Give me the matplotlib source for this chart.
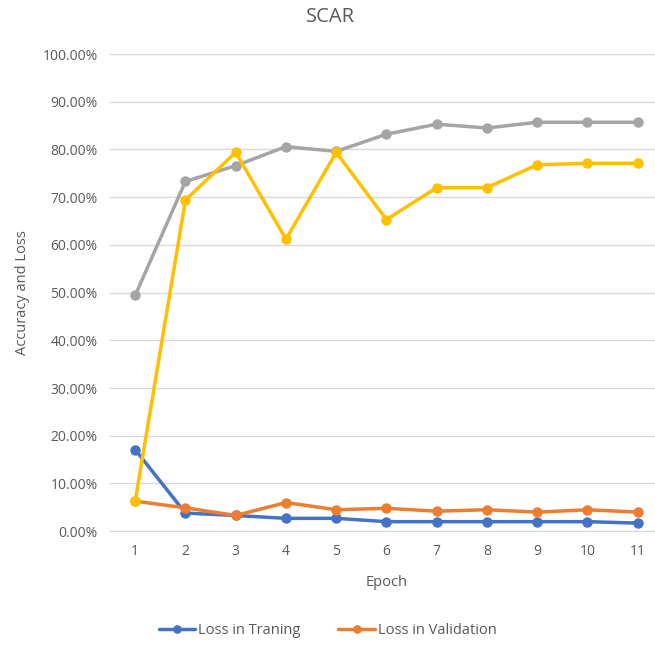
import matplotlib.pyplot as plt
from matplotlib.ticker import PercentFormatter

epochs = [1, 2, 3, 4, 5, 6, 7, 8, 9, 10, 11]
loss_train = [17.1, 3.8, 3.3, 2.7, 2.7, 2.0, 2.0, 2.0, 2.0, 2.0, 1.7]
loss_val = [6.3, 4.9, 3.3, 6.0, 4.5, 4.8, 4.2, 4.5, 4.0, 4.5, 4.0]
acc_train = [49.4, 73.3, 76.6, 80.6, 79.6, 83.2, 85.3, 84.5, 85.7, 85.7, 85.7]
acc_val = [6.3, 69.4, 79.4, 61.2, 79.4, 65.3, 72.0, 72.0, 76.8, 77.1, 77.1]

text_col = '#595959'
plt.rcParams['font.family'] = ['Open Sans', 'DejaVu Sans']

fig = plt.figure(figsize=(6.55, 6.51), dpi=100)
ax = fig.add_axes([0.168, 0.184, 0.844, 0.733])

style = dict(lw=2.5, marker='o', ms=6.5, solid_capstyle='round')
ax.plot(epochs, loss_train, color='#4472C4', label='Loss in Traning', **style)
ax.plot(epochs, loss_val, color='#ED7D31', label='Loss in Validation', **style)
ax.plot(epochs, acc_train, color='#A5A5A5', **style)
ax.plot(epochs, acc_val, color='#FFC000', **style)

ax.set_xlim(0.5, 11.5)
ax.set_ylim(0, 100)
ax.set_yticks(range(0, 101, 10))
ax.set_xticks(epochs)
ax.yaxis.set_major_formatter(PercentFormatter(decimals=2))
ax.grid(axis='y', color='#D9D9D9', lw=1)
ax.set_axisbelow(True)
for s in ['top', 'right', 'left']:
    ax.spines[s].set_visible(False)
ax.spines['bottom'].set_color('#D9D9D9')
ax.tick_params(length=0, colors=text_col, labelsize=10, pad=9)

ax.set_xlabel('Epoch', color=text_col, fontsize=10.5, labelpad=12)
ax.set_ylabel('Accuracy and Loss', color=text_col, fontsize=10.5, labelpad=9)
fig.text(0.505, 0.99, 'SCAR', ha='center', va='top', color=text_col, fontsize=14.5)

leg = fig.legend(loc='center', bbox_to_anchor=(0.5, 0.031), ncol=2, frameon=False,
                 fontsize=10.5, handlelength=2.5, handletextpad=0.2, columnspacing=2.6,
                 markerscale=0.8)
for t in leg.get_texts():
    t.set_color(text_col)

fig.savefig('out.png', dpi=100)
